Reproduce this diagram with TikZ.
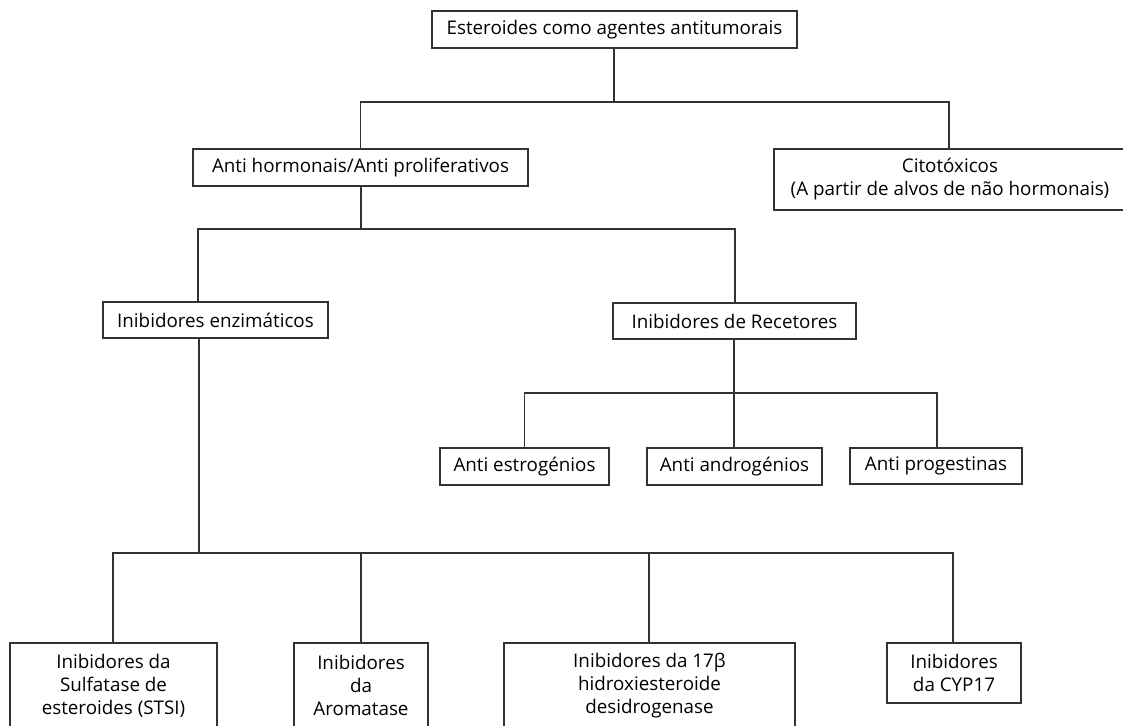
\documentclass[tikz,border=0pt]{standalone}
\usepackage{fontspec}
\setmainfont{Open Sans}
\usetikzlibrary{calc}
\begin{document}
\begin{tikzpicture}[x=1pt,y=-1pt,
  box/.style={draw=black!80, line width=1.1pt, rectangle, inner sep=0pt, align=center,
    font=\fontsize{18.8}{23}\selectfont, text=black},
  wire/.style={draw=black!80, line width=1.1pt}]
\clip (0,0) rectangle (1123,725);
\path[use as bounding box] (0,0) rectangle (1123,725);
% level 0
\node[box, minimum width=365, minimum height=37] (top) at (614.5,29.5) {Esteroides como agentes antitumorais};
% level 1
\node[box, minimum width=335, minimum height=37] (anti) at (360.5,167.5) {Anti hormonais/Anti proliferativos};
\node[box, minimum width=352, minimum height=61] (cito) at (950,179.5) {Citotóxicos\\(A partir de alvos de não hormonais)};
% level 2
\node[box, minimum width=225, minimum height=36] (enz) at (215.5,320) {Inibidores enzimáticos};
\node[box, minimum width=243, minimum height=36] (rec) at (734.5,321) {Inibidores de Recetores};
% level 3
\node[box, minimum width=169, minimum height=37] (estro) at (524.5,466.5) {Anti estrogénios};
\node[box, minimum width=175, minimum height=37] (andro) at (734.5,466.5) {Anti androgénios};
\node[box, minimum width=172, minimum height=36] (prog) at (936,466) {Anti progestinas};
% level 4
\node[box, minimum width=207, minimum height=85] (sulf) at (113.5,685.5) {Inibidores da\\Sulfatase de\\esteroides (STSI)};
\node[box, minimum width=134, minimum height=85] (arom) at (361,685.5) {Inibidores\\da\\Aromatase};
\node[box, minimum width=291, minimum height=85] (hidro) at (649.5,685.5) {Inibidores da 17β\\hidroxiesteroide\\desidrogenase};
\node[box, minimum width=134, minimum height=60] (cyp) at (954,673) {Inibidores\\da CYP17};
% bus coordinates
\coordinate (b0) at (614,102);
\coordinate (b1) at (361,229);
\coordinate (b2) at (734,393);
\coordinate (b3) at (199,553);
% connectors level 0 -> 1
\draw[wire] (top.south -| b0) -- (b0);
\draw[wire] (anti.north) |- (b0) -| (cito.north -| 949,0);
% level 1 -> 2
\draw[wire] (anti.south -| b1) -- (b1);
\draw[wire] (enz.north -| 198,0) |- (b1) -| (rec.north -| 735,0);
% rec -> level 3
\draw[wire] (rec.south -| b2) -- (b2);
\draw[wire] (estro.north) |- (b2) -| (prog.north -| 937,0);
\draw[wire] (b2) -- (andro.north -| b2);
% enz -> level 4
\draw[wire] (enz.south -| b3) -- (b3);
\draw[wire] (sulf.north -| 113,0) |- (b3) -| (cyp.north -| 953,0);
\draw[wire] (arom.north) -- (arom.north |- b3);
\draw[wire] (hidro.north -| 649,0) -- (649,553);
\end{tikzpicture}
\end{document}
